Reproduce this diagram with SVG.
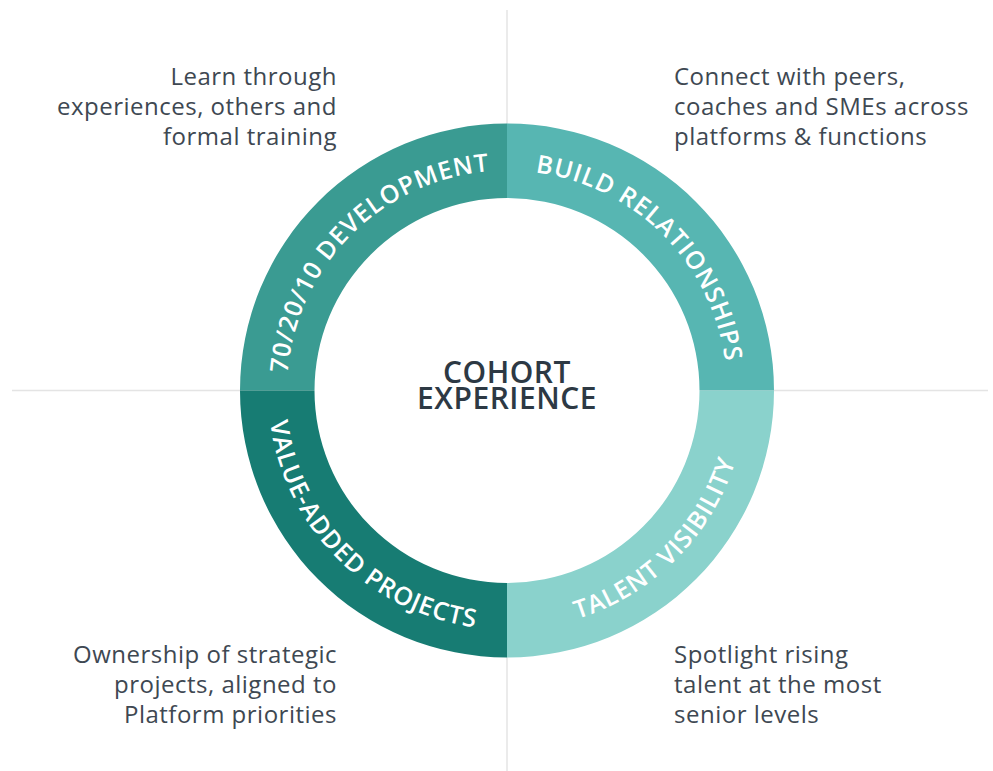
<svg xmlns="http://www.w3.org/2000/svg" width="993" height="771" viewBox="0 0 993 771">
  <style>
    .guide { stroke: #e4e4e4; stroke-width: 1.5; fill: none; }
    .ring-label { font-family: "Open Sans", "Liberation Sans", sans-serif; font-weight: 600; font-size: 25px; fill: #ffffff; letter-spacing: 0.9px; }
    .desc { font-family: "Open Sans", "Liberation Sans", sans-serif; font-size: 24px; fill: #3e4852; letter-spacing: 0.5px; }
    .center { font-family: "Open Sans", "Liberation Sans", sans-serif; font-weight: 600; font-size: 30px; fill: #2d3944; letter-spacing: 0.5px; }
  </style>
  <defs>
    <!-- clockwise baseline over the top (letters point outward) -->
    <path id="arcTop" d="M287,390.5 A220,220 0 0 1 727,390.5"/>
    <!-- anticlockwise baseline under the bottom (letters point inward) -->
    <path id="arcBottom" d="M268,390.5 A239,239 0 0 0 746,390.5"/>
  </defs>

  <rect width="993" height="771" fill="#ffffff"/>

  <g id="guides">
    <line class="guide" x1="507" y1="10" x2="507" y2="771"/>
    <line class="guide" x1="12" y1="390.5" x2="988" y2="390.5"/>
    <!-- hub stays clear of the guide lines -->
    <circle cx="507" cy="390.5" r="193" fill="#ffffff"/>
  </g>

  <g id="development">
    <path fill="#3a9b92" d="M240,390.5 A267,267 0 0 1 507,123.5 L507,198 A192.5,192.5 0 0 0 314.5,390.5 Z"/>
    <text class="ring-label"><textPath href="#arcTop" startOffset="25%" text-anchor="middle">70/20/10 DEVELOPMENT</textPath></text>
    <text class="desc" text-anchor="end"><tspan x="337" y="85">Learn through</tspan><tspan x="337" y="115">experiences, others and</tspan><tspan x="337" y="145">formal training</tspan></text>
  </g>

  <g id="relationships">
    <path fill="#57b6b2" d="M507,123.5 A267,267 0 0 1 774,390.5 L699.5,390.5 A192.5,192.5 0 0 0 507,198 Z"/>
    <text class="ring-label"><textPath href="#arcTop" startOffset="75%" text-anchor="middle">BUILD RELATIONSHIPS</textPath></text>
    <text class="desc"><tspan x="674" y="85">Connect with peers,</tspan><tspan x="674" y="115">coaches and SMEs across</tspan><tspan x="674" y="145">platforms &amp; functions</tspan></text>
  </g>

  <g id="visibility">
    <path fill="#8ad2cc" d="M774,390.5 A267,267 0 0 1 507,657.5 L507,583 A192.5,192.5 0 0 0 699.5,390.5 Z"/>
    <text class="ring-label"><textPath href="#arcBottom" startOffset="75%" text-anchor="middle">TALENT VISIBILITY</textPath></text>
    <text class="desc"><tspan x="674" y="663">Spotlight rising</tspan><tspan x="674" y="693">talent at the most</tspan><tspan x="674" y="723">senior levels</tspan></text>
  </g>

  <g id="projects">
    <path fill="#177c73" d="M507,657.5 A267,267 0 0 1 240,390.5 L314.5,390.5 A192.5,192.5 0 0 0 507,583 Z"/>
    <text class="ring-label"><textPath href="#arcBottom" startOffset="25%" text-anchor="middle">VALUE-ADDED PROJECTS</textPath></text>
    <text class="desc" text-anchor="end"><tspan x="337" y="663">Ownership of strategic</tspan><tspan x="337" y="693">projects, aligned to</tspan><tspan x="337" y="723">Platform priorities</tspan></text>
  </g>

  <g id="cohort">
    <text class="center" text-anchor="middle"><tspan x="507" y="383">COHORT</tspan><tspan x="507" y="409">EXPERIENCE</tspan></text>
  </g>
</svg>
